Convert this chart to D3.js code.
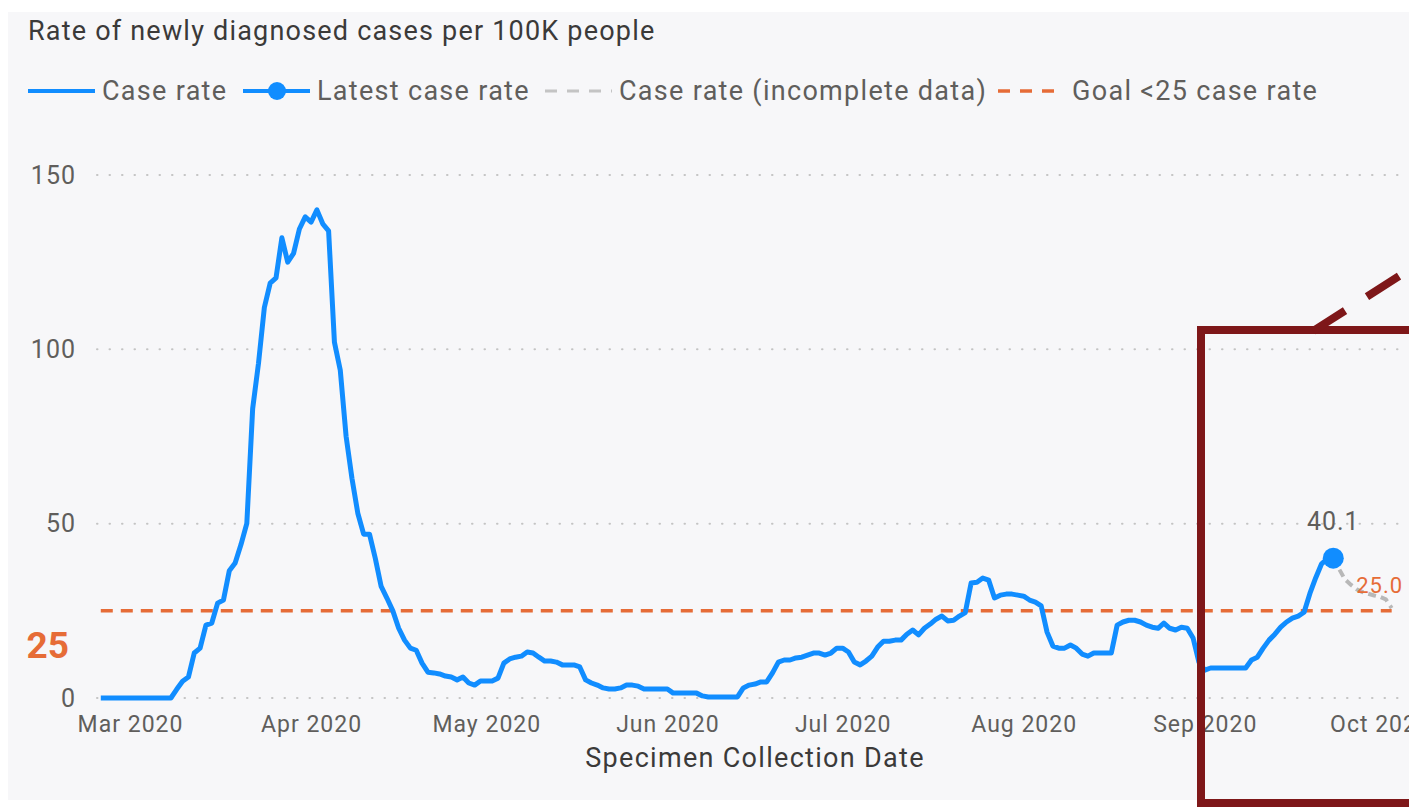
<!DOCTYPE html>
<html>
<head>
<meta charset="utf-8">
<script src="https://cdn.jsdelivr.net/npm/d3@7"></script>
<style>
  body { margin: 0; background: #fff; }
  svg { display: block; }
  text { font-family: Roboto, "Noto Sans", sans-serif; }
</style>
</head>
<body>
<script>
// daily case rate per 100K, one value per day starting at startDate
const startDate = "2020-02-25";
const caseRate = [
    0, 0, 0, 0, 0, 0, 0, 0, 0, 0,
    0, 0, 0, 2.5, 4.8, 6, 12.9, 14.3, 20.9, 21.5,
    27.2, 28.1, 36.5, 38.7, 44, 50.1, 83, 96, 112, 119,
    120.5, 132, 125, 127.5, 134.5, 138, 136.5, 140, 136, 134,
    102, 94, 75, 63, 53, 47, 47, 40, 32, 28.6,
    25, 20, 16.6, 14.3, 13.7, 10, 7.4, 7.2, 6.9, 6.3,
    6, 5.2, 6, 4.3, 3.7, 4.9, 4.9, 4.9, 5.7, 10,
    11.2, 11.7, 12, 13.2, 12.9, 11.7, 10.6, 10.6, 10.3, 9.5,
    9.5, 9.5, 8.9, 5.2, 4.3, 3.7, 2.9, 2.6, 2.6, 2.9,
    3.7, 3.7, 3.4, 2.6, 2.6, 2.6, 2.6, 2.6, 1.4, 1.4,
    1.4, 1.4, 1.4, 0.6, 0.3, 0.3, 0.3, 0.3, 0.3, 0.3,
    2.9, 3.7, 4, 4.6, 4.6, 7.2, 10.3, 10.9, 10.9, 11.5,
    11.7, 12.3, 12.9, 12.9, 12.3, 12.9, 14.3, 14.3, 13.2, 10.3,
    9.5, 10.6, 12, 14.6, 16.3, 16.3, 16.6, 16.6, 18.3, 19.5,
    18.1, 20, 21.2, 22.6, 23.5, 22.1, 22.3, 23.5, 24.5, 33,
    33.2, 34.4, 33.8, 28.7, 29.5, 29.8, 29.8, 29.5, 29.2, 28.1,
    27.5, 26.4, 18.9, 14.9, 14.3, 14.3, 15.2, 14.3, 12.6, 12,
    12.9, 12.9, 12.9, 12.9, 20.9, 21.8, 22.3, 22.3, 21.8, 20.9,
    20.3, 20, 21.5, 20, 19.5, 20.3, 20, 17.2, 10.3, 8,
    8.6, 8.6, 8.6, 8.6, 8.6, 8.6, 8.6, 10.9, 11.7, 14.3,
    16.6, 18.3, 20.3, 21.8, 22.9, 23.5, 24.6, 30, 34.5, 38.5,
    40, 40.1
];
// incomplete data, starting at the latest complete day
const incompleteStart = "2020-09-23";
const incompleteRate = [40.1, 37, 34, 32.5, 31.2, 30.4, 29.9, 29.4, 29, 28.3, 25.8];
const goalRate = 25;
const latestLabel = "40.1";
const goalLabel = "25.0";
const yTicks = [0, 50, 100, 150];
const monthTicks = ["2020-03-01", "2020-04-01", "2020-05-01", "2020-06-01",
    "2020-07-01", "2020-08-01", "2020-09-01", "2020-10-01"];
const legendLabels = ["Case rate", "Latest case rate", "Case rate (incomplete data)", "Goal <25 case rate"];

const w = 1409, h = 809;
const blue = "#118DFF", orange = "#E66C37", grey = "#B8B8B8", boxRed = "#7E1719";
const parse = d3.timeParse("%Y-%m-%d");

const series = caseRate.map((v, i) => ({ date: d3.timeDay.offset(parse(startDate), i), value: v }));
const incomplete = incompleteRate.map((v, i) => ({ date: d3.timeDay.offset(parse(incompleteStart), i), value: v }));
const latest = series[series.length - 1];
const lastDate = incomplete[incomplete.length - 1].date;

const svg = d3.select("body").append("svg")
    .attr("width", w)
    .attr("height", h);

// panel background
svg.append("rect")
    .attr("x", 8).attr("y", 12)
    .attr("width", w - 8).attr("height", 788)
    .attr("fill", "#F7F7F9");

//scales
const xScale = d3.scaleTime()
    .domain([parse("2020-03-01"), parse("2020-10-01")])
    .range([130, 1380]);

const yScale = d3.scaleLinear()
    .domain([0, 150])
    .range([698, 175]);

// title
svg.append("text")
    .attr("x", 28).attr("y", 40)
    .attr("fill", "#3b3a39")
    .style("font-size", "27px")
    .style("letter-spacing", "1.2px")
    .text("Rate of newly diagnosed cases per 100K people");

// legend
const legend = svg.append("g").attr("transform", "translate(0,91)");
const legendX = [28, 243, 545, 998];
legend.append("line").attr("x1", 28).attr("x2", 95)
    .attr("stroke", blue).attr("stroke-width", 4);
legend.append("line").attr("x1", 243).attr("x2", 310)
    .attr("stroke", blue).attr("stroke-width", 4);
legend.append("circle").attr("cx", 277).attr("r", 9).attr("fill", blue);
legend.append("line").attr("x1", 545).attr("x2", 612)
    .attr("stroke", "#C4C4C4").attr("stroke-width", 3).attr("stroke-dasharray", "12,10");
legend.append("line").attr("x1", 998).attr("x2", 1063)
    .attr("stroke", orange).attr("stroke-width", 3.5).attr("stroke-dasharray", "12,10");
legend.selectAll(".lbl")
    .data(legendLabels)
    .enter()
    .append("text")
    .attr("x", (d, i) => legendX[i] + 74)
    .attr("y", 0)
    .attr("dy", "0.35em")
    .attr("fill", "#605E5C")
    .style("font-size", "27px")
    .style("letter-spacing", "1.3px")
    .text(d => d);

// gridlines
svg.selectAll(".grid")
    .data(yTicks)
    .enter()
    .append("line")
    .attr("x1", 97).attr("x2", w)
    .attr("y1", d => yScale(d)).attr("y2", d => yScale(d))
    .attr("stroke", "#C4C4C4")
    .attr("stroke-width", 2)
    .attr("stroke-linecap", "round")
    .attr("stroke-dasharray", "0.5,12");

// y axis
const yAxis = svg.append("g")
    .attr("transform", "translate(76,0)")
    .call(d3.axisLeft(yScale).tickValues(yTicks).tickSize(0).tickPadding(0));
yAxis.select(".domain").remove();
yAxis.selectAll("text")
    .attr("fill", "#605E5C")
    .style("font-size", "25px")
    .style("letter-spacing", "1px")
    .style("font-family", "Roboto, sans-serif");

// goal value on the axis
svg.append("text")
    .attr("x", 69).attr("y", yScale(goalRate) + 47)
    .attr("text-anchor", "end")
    .attr("fill", orange)
    .style("font-size", "37px")
    .style("font-weight", "bold")
    .text(goalRate);

// x axis
const xAxis = svg.append("g")
    .attr("transform", "translate(0,716)")
    .call(d3.axisBottom(xScale)
        .tickValues(monthTicks.map(parse))
        .tickFormat(d3.timeFormat("%b %Y"))
        .tickSize(0).tickPadding(0));
xAxis.select(".domain").remove();
xAxis.selectAll("text")
    .attr("fill", "#605E5C")
    .style("font-size", "23px")
    .style("letter-spacing", "1px")
    .style("font-family", "Roboto, sans-serif");

svg.append("text")
    .attr("x", 755).attr("y", 767)
    .attr("text-anchor", "middle")
    .attr("fill", "#3b3a39")
    .style("font-size", "27px")
    .style("letter-spacing", "1.3px")
    .text("Specimen Collection Date");

// goal line
svg.append("line")
    .attr("x1", xScale(series[0].date)).attr("x2", xScale(lastDate))
    .attr("y1", yScale(goalRate)).attr("y2", yScale(goalRate))
    .attr("stroke", orange)
    .attr("stroke-width", 3.5)
    .attr("stroke-dasharray", "12,8");

const line = d3.line()
    .x(d => xScale(d.date))
    .y(d => yScale(d.value));

// incomplete data
svg.append("path")
    .datum(incomplete)
    .attr("d", line)
    .attr("fill", "none")
    .attr("stroke", grey)
    .attr("stroke-width", 4)
    .attr("stroke-dasharray", "8,5");

// case rate line
svg.append("path")
    .datum(series)
    .attr("d", line)
    .attr("fill", "none")
    .attr("stroke", blue)
    .attr("stroke-width", 5)
    .attr("stroke-linejoin", "round");

svg.append("circle")
    .attr("cx", xScale(latest.date))
    .attr("cy", yScale(latest.value))
    .attr("r", 10.5)
    .attr("fill", blue);

svg.append("text")
    .attr("x", xScale(latest.date))
    .attr("y", yScale(latest.value) - 28)
    .attr("text-anchor", "middle")
    .attr("fill", "#605E5C")
    .style("font-size", "25px")
    .style("letter-spacing", "1px")
    .text(latestLabel);

svg.append("text")
    .attr("x", xScale(lastDate) - 12)
    .attr("y", yScale(goalRate) - 18)
    .attr("text-anchor", "middle")
    .attr("fill", orange)
    .style("font-size", "22px")
    .style("letter-spacing", "1px")
    .text(goalLabel);

// highlight box drawn over the chart
svg.append("rect")
    .attr("x", 1201).attr("y", 330)
    .attr("width", 400).attr("height", 473)
    .attr("fill", "none")
    .attr("stroke", boxRed)
    .attr("stroke-width", 8);

svg.append("line")
    .attr("x1", 1313).attr("y1", 331)
    .attr("x2", 1440).attr("y2", 250)
    .attr("stroke", boxRed)
    .attr("stroke-width", 8)
    .attr("stroke-dasharray", "38,26");
</script>
</body>
</html>
